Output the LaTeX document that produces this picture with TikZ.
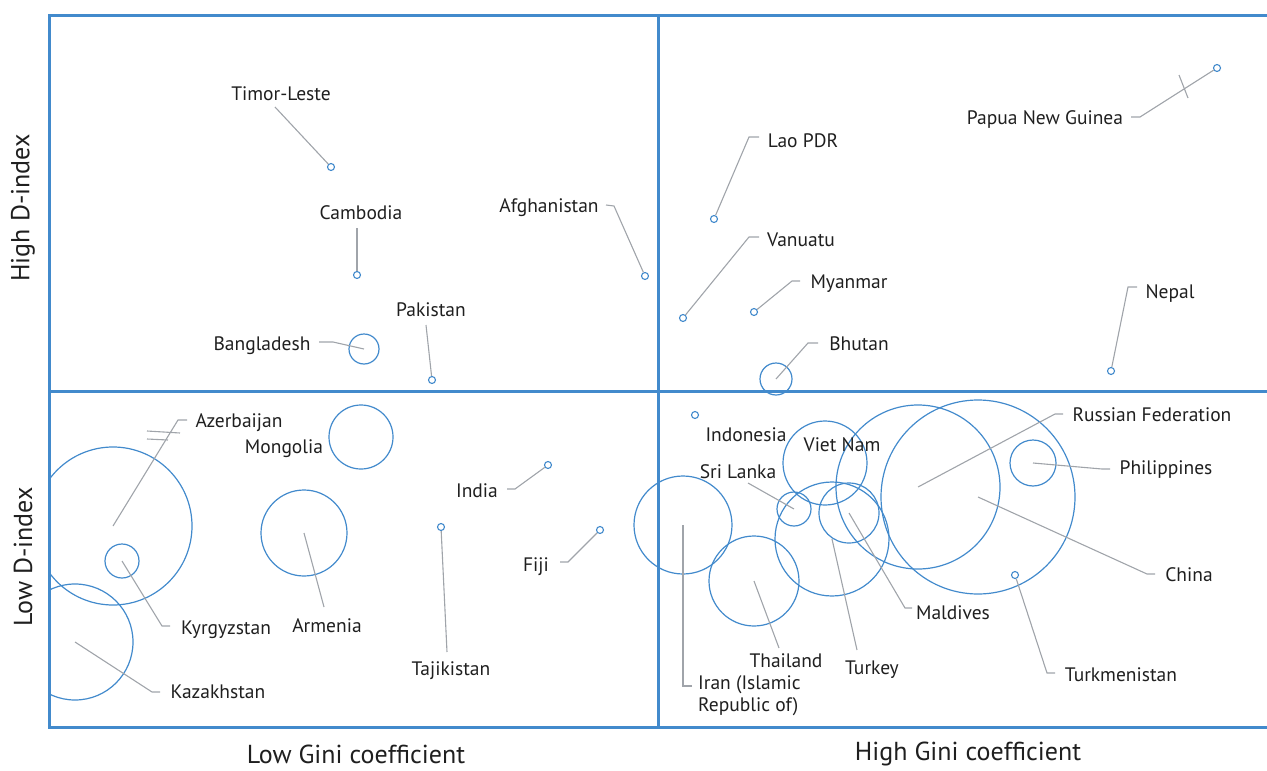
\documentclass[tikz,border=0pt]{standalone}
\usepackage{fontspec}
\setmainfont{PT Sans}
\definecolor{frameblue}{RGB}{66,138,204}
\definecolor{leadgrey}{RGB}{160,164,170}

\begin{document}
\begin{tikzpicture}[x=1pt, y=-1pt, frm/.style={frameblue, line width=3pt}, bub/.style={draw=frameblue, circle, line width=1.2pt, inner sep=0pt, minimum size=2*#1pt}, dot/.style={draw=frameblue, circle, line width=1.1pt, inner sep=0pt, minimum size=7pt}, lab/.style={font=\fontsize{19.5}{22}\selectfont, text=black!88, inner sep=0pt, anchor=base}, axl/.style={font=\fontsize{26}{28}\selectfont, text=black!88, inner sep=0pt}, ld/.style={leadgrey, line width=1.1pt}]
            \useasboundingbox (0,0) rectangle (1267,771);
            % bubbles
            \begin{scope}
            \clip (49,15) rectangle (1267,727);
            \node[bub=15] (bBangla) at (364,349) {};
            \node[bub=16] (bBhutan) at (776,379) {};
            \node[bub=79] (bAzer) at (113,526) {};
            \node[bub=17] (bKyrg) at (122,561) {};
            \node[bub=58] (bKazakh) at (75,642) {};
            \node[bub=32] (bMongol) at (361,437) {};
            \node[bub=43] (bArmen) at (304,533) {};
            \node[bub=42] (bViet) at (825,463) {};
            \node[bub=17] (bSri) at (794,509) {};
            \node[bub=49] (bIran) at (683,525) {};
            \node[bub=45] (bThai) at (754,581) {};
            \node[bub=57] (bTurkey) at (832,539) {};
            \node[bub=30] (bMaldiv) at (849,513) {};
            \node[bub=82] (bRussia) at (918,487) {};
            \node[bub=97] (bChina) at (978,497) {};
            \node[bub=23] (bPhilip) at (1033,463) {};
            \end{scope}

            % dots
            \node[dot] (dTimor) at (331,167) {};
            \node[dot] (dCambod) at (357,275) {};
            \node[dot] (dAfghan) at (645,276) {};
            \node[dot] (dPakist) at (432,380) {};
            \node[dot] (dLao) at (714,219) {};
            \node[dot] (dVanuat) at (683,318) {};
            \node[dot] (dMyanm) at (754,312) {};
            \node[dot] (dPNG) at (1217,68) {};
            \node[dot] (dNepal) at (1111,371) {};
            \node[dot] (dTajik) at (441,527) {};
            \node[dot] (dIndia) at (548,465) {};
            \node[dot] (dFiji) at (600,530) {};
            \node[dot] (dIndon) at (695,415) {};
            \node[dot] (dTurkm) at (1015,575) {};

            % frame
            \draw[frm] (1267,15) -- (49,15) -- (49,727) -- (1267,727);
            \draw[frm] (49,391) -- (1267,391);
            \draw[frm] (658,15) -- (658,727);

            % labels
            \node[lab] (lTimor) at (281,100) {Timor-Leste};
            \node[lab] (lCambod) at (361,219) {Cambodia};
            \node[lab] (lAfghan) at (549,212) {Afghanistan};
            \node[lab] (lPakist) at (431,316) {Pakistan};
            \node[lab] (lBangla) at (262,350) {Bangladesh};
            \node[lab] (lLao) at (803,147) {Lao PDR};
            \node[lab] (lVanuat) at (801,246) {Vanuatu};
            \node[lab] (lMyanm) at (849,288) {Myanmar};
            \node[lab] (lBhutan) at (859,350) {Bhutan};
            \node[lab] (lPNG) at (1045,124) {Papua New Guinea};
            \node[lab] (lNepal) at (1170,298) {Nepal};
            \node[lab] (lAzer) at (239,427) {Azerbaijan};
            \node[lab] (lMongol) at (284,453) {Mongolia};
            \node[lab] (lKyrg) at (226,634) {Kyrgyzstan};
            \node[lab] (lArmen) at (327,632) {Armenia};
            \node[lab] (lKazakh) at (218,698) {Kazakhstan};
            \node[lab] (lTajik) at (451,675) {Tajikistan};
            \node[lab] (lIndia) at (477,497) {India};
            \node[lab] (lFiji) at (536,571) {Fiji};
            \node[lab] (lIndon) at (746,441) {Indonesia};
            \node[lab] (lViet) at (842,451) {Viet Nam};
            \node[lab] (lSri) at (738,478) {Sri Lanka};
            \node[lab, anchor=north west, align=left, font=\fontsize{19.5}{22}\selectfont] (lIran) at (698,675) {Iran (Islamic\\Republic of)};
            \node[lab] (lThai) at (786,667) {Thailand};
            \node[lab] (lTurkey) at (872,674) {Turkey};
            \node[lab] (lMaldiv) at (953,619) {Maldives};
            \node[lab] (lRussia) at (1152,421) {Russian Federation};
            \node[lab] (lChina) at (1189,581) {China};
            \node[lab] (lPhilip) at (1166,474) {Philippines};
            \node[lab] (lTurkm) at (1121,681) {Turkmenistan};

            % axis titles
            \node[axl, rotate=90] (yHigh) at (23,208) {High D-index};
            \node[axl, rotate=90] (yLow) at (23,557) {Low D-index};
            \node[axl] (xLow) at (356,754) {Low Gini coefficient};
            \node[axl] (xHigh) at (968,754) {High Gini coefficient};

            % leader lines
            \coordinate (cTimor) at (275,107);
            \coordinate (cCambod) at (357,228);
            \coordinate (cAfghan) at (606,205);
            \coordinate (cPakist) at (426,325);
            \coordinate (cBangla) at (319,342);
            \coordinate (cLao) at (759,137);
            \coordinate (cVanuat) at (759,237);
            \coordinate (cMyanm) at (800,281);
            \coordinate (cBhutan) at (818,343);
            \coordinate (cPNG) at (1131,117);
            \coordinate (cNepal) at (1137,287);
            \coordinate (cAzer) at (187,420);
            \coordinate (cKyrg) at (170,626);
            \coordinate (cKazakh) at (160,692);
            \coordinate (cArmen) at (324,607);
            \coordinate (cTajik) at (447,652);
            \coordinate (cIndia) at (507,489);
            \coordinate (cFiji) at (560,562);
            \coordinate (cSri) at (748,483);
            \coordinate (cIran) at (692,686);
            \coordinate (cThai) at (779,648);
            \coordinate (cTurkey) at (857,650);
            \coordinate (cMaldiv) at (912,608);
            \coordinate (cRussia) at (1063,414);
            \coordinate (cChina) at (1155,574);
            \coordinate (cPhilip) at (1110,469);
            \coordinate (cTurkm) at (1055,673);

            \draw[ld] (cTimor) -- (dTimor);
            \draw[ld] (cCambod) -- (dCambod);
            \draw[ld] (cAfghan) -- ++(8,1) -- (dAfghan);
            \draw[ld] (cPakist) -- (dPakist);
            \draw[ld] (cBangla) -- ++(14,0) -- (bBangla.center);
            \draw[ld] (cLao) -- ++(-10,0) -- (dLao);
            \draw[ld] (cVanuat) -- ++(-10,0) -- (dVanuat);
            \draw[ld] (cMyanm) -- ++(-8,0) -- (dMyanm);
            \draw[ld] (cBhutan) -- ++(-10,0) -- (bBhutan.center);
            \draw[ld] (cPNG) -- ++(9,0) -- (dPNG);
            \draw[ld] (1179,75) -- (1188,98);
            \draw[ld] (cNepal) -- ++(-9,0) -- (dNepal);
            \draw[ld] (cAzer) -- ++(-9,0) -- (bAzer.center);
            \draw[ld] (147,431) -- (180,433);
            \draw[ld] (147,439) -- (168,440);
            \draw[ld] (cKyrg) -- ++(-8,0) -- (bKyrg.center);
            \draw[ld] (cKazakh) -- ++(-8,0) -- (bKazakh.center);
            \draw[ld] (cArmen) -- (bArmen.center);
            \draw[ld] (cTajik) -- (dTajik);
            \draw[ld] (cIndia) -- ++(8,0) -- (dIndia);
            \draw[ld] (cFiji) -- ++(8,0) -- (dFiji);
            \draw[ld] (cSri) -- (bSri.center);
            \draw[ld] (cIran) -- ++(-9,0) -- (bIran.center);
            \draw[ld] (cThai) -- (bThai.center);
            \draw[ld] (cTurkey) -- (bTurkey.center);
            \draw[ld] (cMaldiv) -- ++(-7,0) -- (bMaldiv.center);
            \draw[ld] (cRussia) -- ++(-8,0) -- (bRussia.center);
            \draw[ld] (cChina) -- ++(-8,0) -- (bChina.center);
            \draw[ld] (cPhilip) -- ++(-8,0) -- (bPhilip.center);
            \draw[ld] (cTurkm) -- ++(-8,0) -- (dTurkm);
        \end{tikzpicture}
\end{document}
